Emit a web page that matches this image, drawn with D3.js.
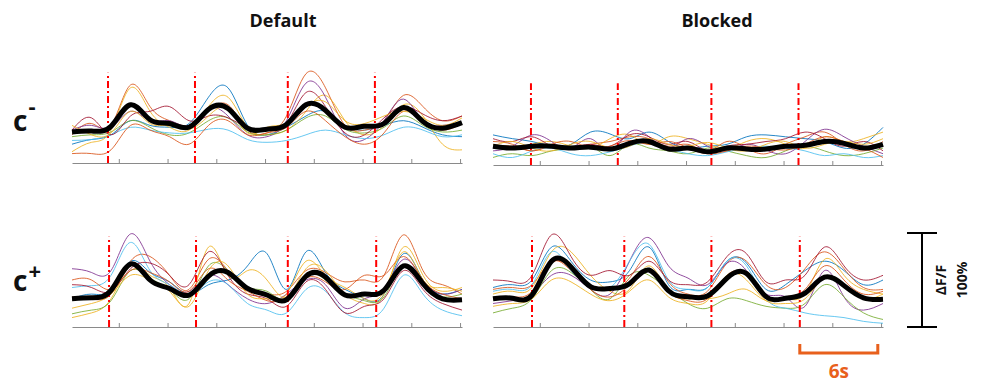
<!DOCTYPE html>
<html>
<head>
<meta charset="utf-8">
<script src="https://cdn.jsdelivr.net/npm/d3@7"></script>
<style>
  body { margin: 0; background: #fff; }
  svg { display: block; }
  text { font-family: "Open Sans", sans-serif; font-weight: bold; }
</style>
</head>
<body>
<svg id="chart" width="992" height="385"></svg>
<script>
// time grid (s) shared by all traces
const timeS = [0, 1.5, 3, 4.5, 6, 7.5, 9, 10.5, 12, 13.5, 15, 16.5, 18, 19.5, 21, 22.5, 24, 25.5, 27, 28.5, 30];
const tickS = [3.6, 7.35, 11.1, 14.85, 18.6, 22.35, 26.1, 29.85];

// MATLAB-like trace colours
const traceColors = ["#0072BD", "#D95319", "#EDB120", "#7E2F8E", "#77AC30", "#4DBEEE", "#A2142F", "#D95319", "#EDB120"];

// Default, c-
const defaultNegStim = [2.77, 9.46, 16.6, 23.3];
const defaultNegMean = [33, 34, 39, 62, 46, 42, 38, 57, 58, 37, 36, 41, 62, 56, 38, 39, 42, 59, 44, 37, 43];
const defaultNegTraces = [
  [20, 25, 30, 45, 40, 38, 42, 70, 80, 40, 30, 38, 50, 55, 40, 35, 40, 45, 38, 30, 28],
  [30, 42, 40, 83, 60, 45, 40, 55, 62, 35, 32, 50, 95, 80, 40, 35, 45, 72, 60, 45, 50],
  [12, 22, 35, 80, 55, 38, 35, 60, 70, 38, 30, 35, 55, 72, 45, 30, 40, 62, 50, 20, 14],
  [35, 40, 38, 55, 45, 45, 40, 58, 50, 30, 28, 45, 85, 70, 30, 25, 45, 68, 45, 40, 42],
  [28, 30, 33, 45, 38, 30, 32, 45, 48, 33, 30, 35, 48, 50, 36, 32, 38, 50, 40, 33, 35],
  [24, 25, 30, 38, 35, 32, 32, 36, 35, 25, 22, 24, 30, 35, 30, 26, 30, 38, 35, 28, 30],
  [35, 48, 30, 50, 55, 60, 45, 50, 48, 38, 35, 42, 75, 60, 32, 30, 48, 60, 52, 45, 50],
  [10, 10, 14, 40, 35, 28, 20, 40, 45, 30, 32, 38, 55, 45, 28, 20, 32, 55, 45, 35, 42],
  [40, 30, 32, 55, 42, 40, 36, 50, 58, 32, 38, 42, 60, 65, 45, 42, 50, 55, 48, 40, 48]
];

// Blocked, c-
const blockedNegStim = [2.92, 9.6, 16.8, 23.5];
const blockedNegMean = [20, 18, 20, 20, 18, 19, 17, 23, 25, 17, 18, 14, 18, 17, 17, 20, 21, 25, 23, 18, 22];
const blockedNegTraces = [
  [32, 28, 25, 20, 22, 35, 33, 28, 35, 25, 18, 20, 22, 30, 32, 30, 28, 25, 18, 22, 40],
  [25, 22, 15, 20, 18, 22, 25, 30, 28, 20, 22, 15, 25, 18, 12, 22, 30, 35, 22, 15, 25],
  [22, 18, 22, 25, 20, 18, 28, 32, 22, 30, 28, 22, 18, 25, 28, 22, 18, 30, 25, 28, 35],
  [15, 20, 32, 25, 18, 28, 15, 35, 30, 18, 28, 20, 15, 22, 16, 12, 25, 38, 30, 20, 12],
  [8, 12, 10, 15, 18, 20, 10, 22, 18, 15, 12, 18, 15, 10, 8, 15, 20, 15, 10, 12, 18],
  [12, 8, 15, 18, 12, 10, 14, 20, 25, 18, 12, 10, 14, 18, 20, 18, 15, 10, 12, 8, 10],
  [28, 25, 30, 20, 18, 22, 20, 32, 30, 22, 25, 15, 20, 22, 25, 28, 35, 28, 20, 25, 15],
  [18, 20, 15, 22, 25, 18, 20, 26, 22, 25, 18, 12, 15, 20, 18, 16, 22, 30, 25, 18, 8],
  [20, 25, 18, 15, 22, 25, 18, 20, 28, 22, 20, 24, 18, 15, 22, 25, 18, 22, 25, 22, 28]
];

// Default, c+
const defaultPosStim = [2.85, 9.54, 16.6, 23.4];
const defaultPosMean = [30, 31, 39, 67, 50, 41, 34, 54, 58, 41, 34, 29, 54, 53, 34, 35, 39, 65, 46, 30, 29];
const defaultPosTraces = [
  [30, 35, 40, 70, 58, 48, 35, 45, 50, 65, 78, 40, 80, 58, 40, 30, 35, 78, 50, 35, 40],
  [32, 30, 35, 70, 75, 55, 40, 72, 60, 40, 35, 38, 60, 58, 48, 50, 55, 98, 60, 45, 35],
  [10, 15, 30, 65, 55, 42, 25, 85, 55, 60, 50, 32, 62, 60, 35, 25, 35, 85, 55, 38, 42],
  [62, 58, 60, 99, 70, 45, 38, 55, 45, 30, 25, 35, 50, 45, 20, 30, 40, 72, 50, 35, 40],
  [14, 18, 28, 60, 52, 40, 30, 65, 60, 42, 38, 30, 55, 50, 35, 28, 32, 65, 45, 32, 35],
  [42, 44, 55, 90, 60, 45, 35, 48, 45, 25, 18, 15, 40, 38, 15, 10, 20, 55, 35, 18, 12],
  [45, 42, 38, 62, 68, 55, 45, 80, 55, 35, 30, 22, 48, 40, 15, 22, 30, 60, 40, 25, 18],
  [50, 50, 40, 60, 58, 48, 38, 62, 50, 38, 28, 32, 52, 48, 40, 55, 55, 75, 50, 35, 30],
  [20, 25, 35, 55, 50, 38, 22, 60, 65, 35, 30, 35, 70, 55, 42, 30, 38, 80, 50, 42, 38]
];

// Blocked, c+
const blockedPosStim = [3.0, 10.1, 16.8, 23.6];
const blockedPosMean = [30, 30.5, 34, 70, 64, 43, 41, 46, 60.6, 38.6, 32.3, 33, 52, 57, 32.3, 30.5, 36, 53, 44, 31, 29.4];
const blockedPosTraces = [
  [42, 45, 50, 85, 70, 50, 48, 60, 85, 45, 40, 42, 70, 68, 40, 45, 60, 70, 60, 45, 50],
  [40, 42, 45, 70, 60, 45, 40, 52, 75, 48, 35, 38, 68, 70, 45, 42, 62, 80, 62, 42, 40],
  [35, 38, 42, 80, 80, 55, 38, 40, 65, 38, 30, 30, 35, 40, 28, 30, 35, 72, 55, 40, 35],
  [25, 28, 35, 55, 55, 40, 35, 70, 95, 65, 52, 45, 68, 60, 35, 32, 22, 60, 32, 18, 25],
  [15, 20, 30, 60, 58, 40, 30, 55, 55, 40, 25, 20, 30, 28, 22, 20, 25, 45, 32, 15, 8],
  [38, 40, 45, 80, 60, 45, 42, 70, 88, 50, 40, 42, 70, 65, 30, 20, 15, 12, 10, 6, 4],
  [50, 48, 55, 98, 75, 55, 60, 55, 70, 50, 45, 48, 75, 78, 48, 50, 55, 85, 65, 50, 55],
  [30, 32, 38, 68, 62, 40, 32, 45, 60, 38, 28, 30, 55, 55, 30, 32, 40, 65, 50, 35, 38],
  [22, 25, 30, 50, 48, 35, 28, 38, 50, 32, 25, 28, 55, 50, 28, 25, 30, 52, 44, 30, 35]
];

const panelTitles = ["Default", "Blocked"];
const rowLabels = ["-", "+"];

const svg = d3.select("#chart");

// panel layout
const panels = [
  { x0: 72,  axisY: 163, traces: defaultNegTraces, mean: defaultNegMean, stim: defaultNegStim, stimTop: 96 },
  { x0: 493, axisY: 165, traces: blockedNegTraces, mean: blockedNegMean, stim: blockedNegStim, stimTop: 87 },
  { x0: 72,  axisY: 327, traces: defaultPosTraces, mean: defaultPosMean, stim: defaultPosStim, stimTop: 96 },
  { x0: 493, axisY: 327, traces: blockedPosTraces, mean: blockedPosMean, stim: blockedPosStim, stimTop: 96 }
];

let lastX, lastY;
panels.forEach(p => {
  const x = d3.scaleLinear().domain([0, 30]).range([p.x0, p.x0 + 390]);
  const y = d3.scaleLinear().domain([0, 100]).range([p.axisY, p.axisY - 94]);
  lastX = x; lastY = y;

  const line = d3.line()
    .x((d, i) => x(timeS[i]))
    .y(d => y(d))
    .curve(d3.curveNatural);

  const g = svg.append("g");

  // axis
  const ax = g.append("g")
    .attr("transform", "translate(0," + p.axisY + ")")
    .call(d3.axisBottom(x).tickValues(tickS).tickSizeInner(-4).tickSizeOuter(0).tickFormat(""));
  ax.select(".domain").attr("stroke", "#8a8a8a");
  ax.selectAll(".tick line").attr("stroke", "#8a8a8a");

  // individual traces
  g.selectAll("path.trace")
    .data(p.traces)
    .enter()
    .append("path")
    .attr("class", "trace")
    .attr("d", line)
    .attr("fill", "none")
    .attr("stroke", (d, i) => traceColors[i % traceColors.length])
    .attr("stroke-opacity", 0.85)
    .attr("stroke-width", 1);

  // stimulus markers
  g.selectAll("line.stim")
    .data(p.stim)
    .enter()
    .append("line")
    .attr("class", "stim")
    .attr("x1", d => x(d)).attr("x2", d => x(d))
    .attr("y1", y(0)).attr("y2", y(p.stimTop))
    .attr("stroke", "#ff0000")
    .attr("stroke-width", 2)
    .attr("stroke-dasharray", "7,3,2,3");

  // mean
  g.append("path")
    .datum(p.mean)
    .attr("d", line)
    .attr("fill", "none")
    .attr("stroke", "#000")
    .attr("stroke-width", 5)
    .attr("stroke-linejoin", "round");
});

// titles
svg.selectAll("text.title")
  .data(panelTitles)
  .enter()
  .append("text")
  .attr("class", "title")
  .attr("x", (d, i) => i === 0 ? 283 : 717)
  .attr("y", 27)
  .attr("text-anchor", "middle")
  .attr("font-size", 18)
  .attr("fill", "#111")
  .text(d => d);

// row labels
rowLabels.forEach((s, i) => {
  const by = i === 0 ? 131 : 291;
  const t = svg.append("text").attr("x", 13).attr("y", by).attr("font-size", 28).attr("fill", "#111");
  t.append("tspan").text("c");
  t.append("tspan").attr("dx", 1).attr("dy", i === 0 ? -17 : -12).attr("font-size", 22).text(s);
});

// vertical scale bar (100% dF/F)
const sbX = 922;
const vb = svg.append("g").attr("stroke", "#000").attr("stroke-width", 2);
vb.append("line").attr("x1", sbX).attr("x2", sbX).attr("y1", lastY(0)).attr("y2", lastY(100));
vb.append("line").attr("x1", sbX - 15).attr("x2", sbX + 15).attr("y1", lastY(0)).attr("y2", lastY(0));
vb.append("line").attr("x1", sbX - 15).attr("x2", sbX + 15).attr("y1", lastY(100)).attr("y2", lastY(100));
const midY = lastY(50);
svg.append("text").attr("transform", "translate(946," + midY + ") rotate(-90)")
  .attr("text-anchor", "middle").attr("font-size", 14).attr("fill", "#111").text("\u0394F/F");
svg.append("text").attr("transform", "translate(967," + midY + ") rotate(-90)")
  .attr("text-anchor", "middle").attr("font-size", 14).attr("fill", "#111").text("100%");

// horizontal scale bar (6 s)
const orange = "#E8601C";
const hx0 = lastX(23.6), hx1 = lastX(29.6);
svg.append("path")
  .attr("d", "M" + hx0 + ",344V353H" + hx1 + "V344")
  .attr("fill", "none").attr("stroke", orange).attr("stroke-width", 3);
svg.append("text").attr("x", (hx0 + hx1) / 2).attr("y", 378)
  .attr("text-anchor", "middle").attr("font-size", 19).attr("fill", orange).text("6s");
</script>
</body>
</html>
